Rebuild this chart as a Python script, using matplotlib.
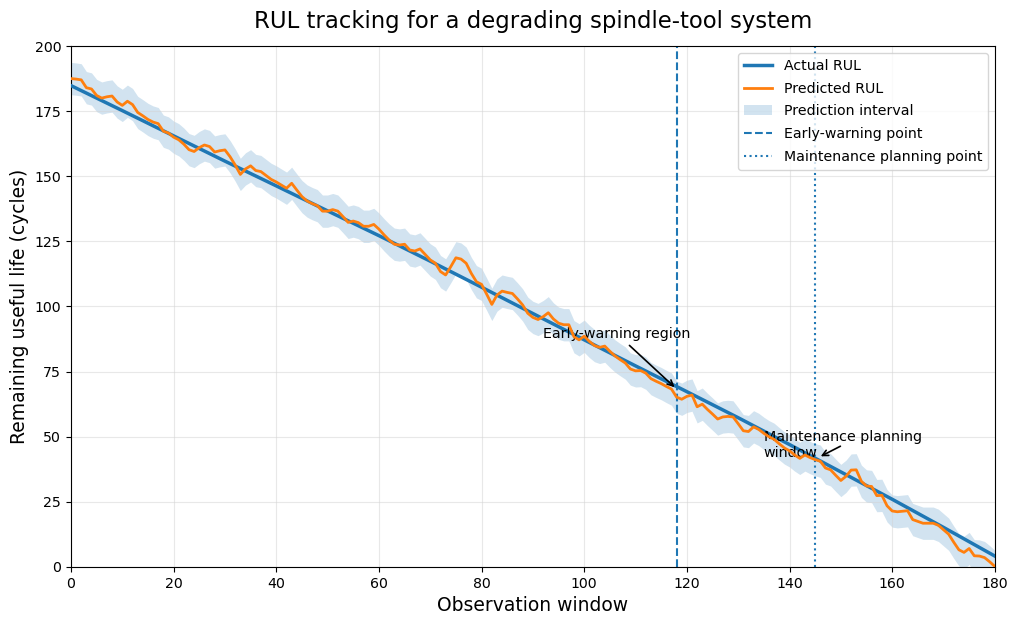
import numpy as np
import matplotlib
matplotlib.use("Agg")
import matplotlib.pyplot as plt

# observation windows 0..180
windows = np.arange(0, 181)

# actual RUL read every 10 windows
actual_x = [0, 10, 20, 30, 40, 50, 60, 70, 80, 90, 100, 110, 120, 130, 140, 150, 160, 170, 180]
actual_rul = [184.8, 175.2, 165.5, 155.8, 146.3, 136.7, 127.2, 117.4, 107.4, 97.3,
              87.2, 77.2, 67.3, 57.3, 47.0, 36.5, 26.0, 15.2, 4.2]

# predicted RUL, one value per window
predicted_rul = [
    187.5, 187.3, 187.0, 184.0, 183.5, 181.0, 180.0, 180.5, 180.8, 178.5,
    177.2, 178.8, 177.5, 174.5, 173.2, 171.8, 170.8, 170.2, 167.3, 166.6,
    165.0, 164.0, 162.3, 160.2, 159.5, 161.0, 162.0, 161.4, 159.3, 159.8,
    160.1, 157.5, 154.3, 150.7, 152.8, 154.0, 152.2, 151.8, 150.3, 148.8,
    147.8, 146.6, 145.4, 147.3, 144.7, 142.2, 140.5, 139.5, 138.7, 136.6,
    136.6, 137.2, 136.6, 134.5, 132.3, 132.8, 132.2, 130.8, 130.8, 131.5,
    129.7, 127.5, 125.5, 123.9, 123.6, 123.9, 121.7, 121.3, 122.1, 120.0,
    117.9, 116.6, 113.4, 112.1, 115.3, 118.7, 118.2, 116.6, 112.7, 109.5,
    108.5, 104.7, 100.8, 104.4, 105.9, 105.4, 105.0, 102.9, 100.6, 97.4,
    95.8, 95.0, 96.1, 97.6, 95.2, 93.6, 93.0, 93.0, 88.4, 87.2,
    88.6, 86.6, 85.0, 84.3, 84.8, 82.8, 81.0, 79.6, 78.3, 76.0,
    75.3, 75.4, 74.4, 72.3, 71.3, 70.4, 69.3, 68.3, 65.2, 64.4,
    65.5, 66.0, 61.5, 62.5, 60.5, 58.7, 56.8, 57.6, 57.8, 57.6,
    55.0, 52.3, 52.0, 53.8, 52.8, 51.3, 50.0, 49.0, 47.3, 45.7,
    44.6, 43.0, 41.7, 43.0, 42.0, 41.2, 40.6, 38.0, 37.3, 35.2,
    33.2, 34.8, 37.2, 37.3, 32.9, 31.1, 30.9, 27.4, 27.5, 23.5,
    21.5, 21.2, 21.4, 21.6, 18.2, 17.5, 16.8, 16.8, 16.8, 16.0,
    14.3, 12.6, 9.5, 6.6, 5.6, 7.1, 4.3, 4.2, 3.6, 2.0,
    0.2,
]
interval_half_width = 6.2

early_warning = 118
maintenance_point = 145

predicted_rul = np.array(predicted_rul)

fig, ax = plt.subplots(figsize=(10.11, 6.2), dpi=100)
fig.subplots_adjust(left=0.0702, right=0.984, top=0.9258, bottom=0.0855)

ax.fill_between(windows, predicted_rul - interval_half_width, predicted_rul + interval_half_width,
                color='tab:blue', alpha=0.2, linewidth=0, label='Prediction interval')
ax.plot(actual_x, actual_rul, color='tab:blue', linewidth=2.5, label='Actual RUL', zorder=3)
ax.plot(windows, predicted_rul, color='tab:orange', linewidth=2, label='Predicted RUL', zorder=4)
ax.axvline(early_warning, color='tab:blue', linestyle='--', linewidth=1.5, label='Early-warning point')
ax.axvline(maintenance_point, color='tab:blue', linestyle=':', linewidth=1.5, label='Maintenance planning point')

ax.annotate('Early-warning region', xy=(118, 68.3), xytext=(92, 88),
            fontsize=10.3, arrowprops=dict(arrowstyle='->', color='black', lw=1.2))
ax.annotate('Maintenance planning\nwindow', xy=(145.6, 42), xytext=(135, 42.2),
            fontsize=10.3, arrowprops=dict(arrowstyle='->', color='black', lw=1.2))

ax.set_xlim(0, 180)
ax.set_ylim(0, 200)
ax.set_title('RUL tracking for a degrading spindle-tool system', fontsize=16.4, pad=13)
ax.set_xlabel('Observation window', fontsize=13.5)
ax.set_ylabel('Remaining useful life (cycles)', fontsize=13.5)
ax.tick_params(labelsize=10.2)
ax.grid(True, color='lightgray', alpha=0.5)

handles, labels = ax.get_legend_handles_labels()
order = [labels.index(l) for l in ['Actual RUL', 'Predicted RUL', 'Prediction interval',
                                   'Early-warning point', 'Maintenance planning point']]
ax.legend([handles[i] for i in order], [labels[i] for i in order], loc='upper right',
          fontsize=10.2, labelspacing=0.62)

fig.savefig('out.png', dpi=100)
